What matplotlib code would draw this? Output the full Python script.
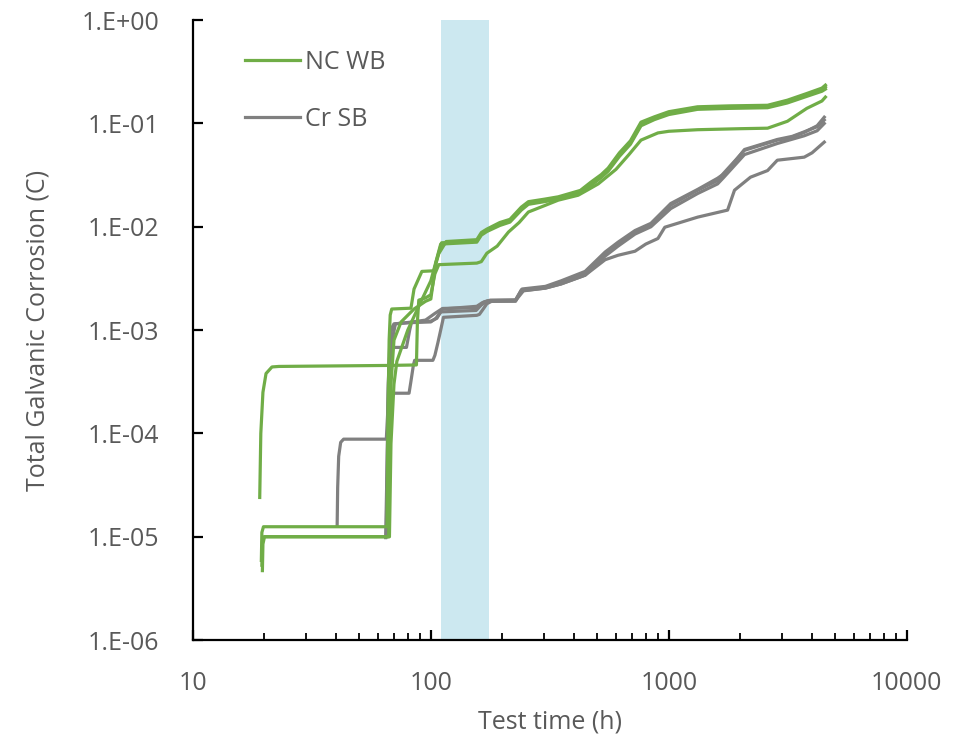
import matplotlib
matplotlib.use("Agg")
import matplotlib.pyplot as plt
from matplotlib.ticker import FixedLocator, LogLocator, NullLocator, NullFormatter

plt.rcParams["font.family"] = ["Open Sans", "DejaVu Sans"]

# NC WB (green) specimens: test time (h) and total galvanic corrosion (C)
nc_wb_time_1 = [19.1, 19.3, 19.7, 20.3, 21.5, 23.0, 66.0, 87.0, 87.8, 89.0, 95.0, 100.0, 104.0, 108.0,
                156.0, 163.0, 172.0, 190.0, 212.0, 235.0, 257.0, 300.0, 343.0, 416.0, 460.0, 505.0,
                600.0, 680.0, 764.0, 900.0, 1000.0, 1320.0, 2000.0, 2600.0, 3150.0, 3800.0, 4400.0, 4550.0]
nc_wb_charge_1 = [2.4e-5, 1.0e-4, 2.5e-4, 3.8e-4, 4.4e-4, 4.45e-4, 4.55e-4, 4.6e-4, 1.2e-3, 1.95e-3, 2.05e-3, 2.2e-3, 3.5e-3, 4.3e-3,
                  4.45e-3, 4.6e-3, 5.55e-3, 6.5e-3, 8.9e-3, 1.1e-2, 1.39e-2, 1.6e-2, 1.81e-2, 2.02e-2, 2.3e-2, 2.6e-2,
                  3.6e-2, 5.0e-2, 6.9e-2, 8.1e-2, 8.4e-2, 8.7e-2, 8.9e-2, 9.0e-2, 0.105, 0.14, 0.165, 0.18]

nc_wb_time_2 = [19.4, 19.5, 19.8, 65.5, 66.0, 66.8, 67.5, 68.5, 82.5, 85.0, 91.7, 103.0, 108.0, 116.0,
                156.0, 163.0, 172.0, 195.0, 215.0, 240.0, 257.0, 300.0, 343.0, 425.0, 470.0, 520.0,
                556.0, 620.0, 690.0, 764.0, 870.0, 1000.0, 1320.0, 1800.0, 2600.0, 3150.0, 3800.0, 4400.0, 4550.0]
nc_wb_charge_2 = [5.9e-6, 1.1e-5, 1.25e-5, 1.25e-5, 1.2e-4, 8.0e-4, 1.4e-3, 1.6e-3, 1.63e-3, 2.5e-3, 3.7e-3, 3.75e-3, 5.5e-3, 7.2e-3,
                  7.5e-3, 8.8e-3, 9.5e-3, 1.1e-2, 1.18e-2, 1.55e-2, 1.75e-2, 1.85e-2, 1.95e-2, 2.25e-2, 2.7e-2, 3.2e-2,
                  3.7e-2, 5.2e-2, 6.8e-2, 0.103, 0.116, 0.13, 0.145, 0.148, 0.15, 0.168, 0.195, 0.22, 0.235]

nc_wb_time_3 = [19.6, 19.7, 20.0, 66.5, 67.0, 68.0, 70.0, 75.0, 85.0, 95.0, 100.0, 105.0, 111.0,
                156.0, 163.0, 172.0, 195.0, 215.0, 240.0, 257.0, 300.0, 343.0, 425.0, 470.0, 520.0,
                556.0, 620.0, 690.0, 764.0, 870.0, 1000.0, 1320.0, 1800.0, 2600.0, 3150.0, 3800.0, 4400.0, 4550.0]
nc_wb_charge_3 = [4.7e-6, 8.5e-6, 1.0e-5, 1.0e-5, 6.0e-5, 3.0e-4, 8.0e-4, 1.2e-3, 1.6e-3, 1.9e-3, 2.0e-3, 4.5e-3, 7.0e-3,
                  7.3e-3, 8.5e-3, 9.2e-3, 1.06e-2, 1.14e-2, 1.5e-2, 1.7e-2, 1.8e-2, 1.9e-2, 2.2e-2, 2.6e-2, 3.1e-2,
                  3.55e-2, 5.0e-2, 6.5e-2, 0.098, 0.112, 0.125, 0.14, 0.143, 0.145, 0.162, 0.188, 0.21, 0.225]

nc_wb_time_4 = [19.5, 19.6, 19.9, 67.0, 68.0, 70.0, 72.0, 80.0, 90.0, 100.0, 110.0,
                156.0, 163.0, 172.0, 195.0, 215.0, 240.0, 257.0, 300.0, 343.0, 425.0, 470.0, 520.0,
                556.0, 620.0, 690.0, 764.0, 870.0, 1000.0, 1320.0, 1800.0, 2600.0, 3150.0, 3800.0, 4400.0, 4550.0]
nc_wb_charge_4 = [5.3e-6, 9.0e-6, 1.0e-5, 1.0e-5, 8.0e-5, 3.0e-4, 5.0e-4, 1.0e-3, 1.8e-3, 3.0e-3, 6.8e-3,
                  7.1e-3, 8.3e-3, 9.0e-3, 1.03e-2, 1.11e-2, 1.45e-2, 1.65e-2, 1.75e-2, 1.85e-2, 2.15e-2, 2.5e-2, 3.0e-2,
                  3.45e-2, 4.8e-2, 6.3e-2, 0.095, 0.109, 0.122, 0.137, 0.14, 0.142, 0.158, 0.183, 0.205, 0.215]

# Cr SB (grey) specimens
cr_sb_time_1 = [40.4, 40.6, 41.0, 41.8, 43.0, 65.0, 65.8, 66.5, 67.5, 70.0, 79.0, 81.5, 83.0, 100.0, 106.0,
                112.0, 156.0, 165.0, 175.0, 227.0, 240.0, 303.0, 353.0, 445.0, 540.0, 612.0, 721.0, 841.0,
                900.0, 1019.0, 1322.0, 1603.0, 1700.0, 2080.0, 2857.0, 3200.0, 3707.0, 4200.0, 4500.0]
cr_sb_charge_1 = [1.3e-5, 3.0e-5, 6.0e-5, 8.2e-5, 8.8e-5, 8.8e-5, 1.5e-4, 4.0e-4, 6.8e-4, 6.8e-4, 6.8e-4, 1.0e-3, 1.2e-3, 1.22e-3, 1.3e-3,
                  1.6e-3, 1.7e-3, 1.85e-3, 1.93e-3, 1.95e-3, 2.45e-3, 2.6e-3, 2.9e-3, 3.6e-3, 5.5e-3, 6.9e-3, 8.9e-3, 1.04e-2,
                  1.2e-2, 1.62e-2, 2.26e-2, 2.8e-2, 3.3e-2, 5.5e-2, 6.9e-2, 7.2e-2, 8.2e-2, 9.5e-2, 0.115]

cr_sb_time_2 = [64.6, 65.2, 66.0, 67.0, 68.5, 81.0, 82.5, 84.5, 85.5, 102.0, 104.0, 107.0, 110.0, 113.0,
                156.0, 160.0, 166.0, 172.0, 180.0, 227.0, 245.0, 303.0, 353.0, 445.0, 540.0, 612.0, 721.0,
                800.0, 900.0, 962.0, 1322.0, 1766.0, 1888.0, 2204.0, 2600.0, 2857.0, 3707.0, 4000.0, 4500.0]
cr_sb_charge_2 = [9.8e-6, 3.0e-5, 1.1e-4, 2.0e-4, 2.45e-4, 2.45e-4, 3.2e-4, 4.6e-4, 5.1e-4, 5.1e-4, 5.7e-4, 7.5e-4, 1.0e-3, 1.33e-3,
                  1.39e-3, 1.42e-3, 1.6e-3, 1.8e-3, 1.9e-3, 1.93e-3, 2.4e-3, 2.55e-3, 2.8e-3, 3.4e-3, 4.8e-3, 5.3e-3, 5.8e-3,
                  6.8e-3, 7.7e-3, 9.9e-3, 1.24e-2, 1.45e-2, 2.26e-2, 3.02e-2, 3.5e-2, 4.41e-2, 4.72e-2, 5.2e-2, 6.6e-2]

cr_sb_time_3 = [65.0, 65.6, 66.3, 67.2, 68.5, 70.0, 82.0, 100.0, 105.0, 110.0, 155.0, 163.0, 172.0, 227.0,
                240.0, 303.0, 353.0, 445.0, 540.0, 612.0, 721.0, 841.0, 1019.0, 1322.0, 1603.0, 1700.0,
                2080.0, 2857.0, 3707.0, 4200.0, 4500.0]
cr_sb_charge_3 = [1.0e-5, 7.0e-5, 3.0e-4, 7.5e-4, 1.05e-3, 1.15e-3, 1.18e-3, 1.2e-3, 1.3e-3, 1.5e-3, 1.55e-3, 1.75e-3, 1.9e-3, 1.9e-3,
                  2.4e-3, 2.55e-3, 2.8e-3, 3.4e-3, 5.2e-3, 6.5e-3, 8.5e-3, 1.0e-2, 1.5e-2, 2.1e-2, 2.6e-2, 3.0e-2,
                  5.0e-2, 6.4e-2, 7.6e-2, 8.5e-2, 0.1]

cr_sb_time_4 = [65.5, 66.2, 67.0, 68.0, 69.5, 71.0, 84.0, 95.0, 104.0, 112.0, 156.0, 168.0, 178.0, 227.0,
                242.0, 303.0, 353.0, 445.0, 540.0, 612.0, 721.0, 841.0, 1019.0, 1322.0, 1603.0, 1750.0,
                2080.0, 2857.0, 3300.0, 3707.0, 4200.0, 4500.0]
cr_sb_charge_4 = [1.2e-5, 1.5e-4, 4.5e-4, 6.2e-4, 9.0e-4, 1.15e-3, 1.2e-3, 1.25e-3, 1.45e-3, 1.62e-3, 1.65e-3, 1.88e-3, 1.95e-3, 1.96e-3,
                  2.5e-3, 2.65e-3, 3.0e-3, 3.7e-3, 5.7e-3, 7.1e-3, 9.2e-3, 1.08e-2, 1.68e-2, 2.3e-2, 2.95e-2, 3.4e-2,
                  5.6e-2, 7.0e-2, 7.5e-2, 8.3e-2, 9.3e-2, 0.108]

shade_start, shade_end = 110.0, 175.0

x_ticks = [10, 100, 1000, 10000]
x_tick_labels = ["10", "100", "1000", "10000"]
y_ticks = [1e-6, 1e-5, 1e-4, 1e-3, 1e-2, 1e-1, 1e0]
y_tick_labels = ["1.E-06", "1.E-05", "1.E-04", "1.E-03", "1.E-02", "1.E-01", "1.E+00"]

green = "#70AD47"
grey = "#808080"
text_grey = "#595959"

fig = plt.figure(figsize=(9.74, 7.46), dpi=100)
ax = fig.add_axes([0.198, 0.142, 0.733, 0.831])

ax.axvspan(shade_start, shade_end, color="#CCE8F0", zorder=0, linewidth=0)

green_sets = [(nc_wb_time_1, nc_wb_charge_1), (nc_wb_time_2, nc_wb_charge_2),
              (nc_wb_time_3, nc_wb_charge_3), (nc_wb_time_4, nc_wb_charge_4)]
grey_sets = [(cr_sb_time_1, cr_sb_charge_1), (cr_sb_time_2, cr_sb_charge_2),
             (cr_sb_time_3, cr_sb_charge_3), (cr_sb_time_4, cr_sb_charge_4)]

for i, (t, q) in enumerate(green_sets):
    ax.plot(t, q, color=green, linewidth=2.3, label="NC WB" if i == 0 else None, zorder=3)
for i, (t, q) in enumerate(grey_sets):
    ax.plot(t, q, color=grey, linewidth=2.3, label="Cr SB" if i == 0 else None, zorder=2)

ax.set_xscale("log")
ax.set_yscale("log")
ax.set_xlim(10, 10000)
ax.set_ylim(1e-6, 1)

ax.xaxis.set_major_locator(FixedLocator(x_ticks))
ax.set_xticklabels(x_tick_labels)
ax.xaxis.set_minor_locator(LogLocator(base=10, subs=range(2, 10)))
ax.xaxis.set_minor_formatter(NullFormatter())
ax.yaxis.set_major_locator(FixedLocator(y_ticks))
ax.set_yticklabels(y_tick_labels)
ax.yaxis.set_minor_locator(NullLocator())

for side in ["top", "right"]:
    ax.spines[side].set_visible(False)
for side in ["left", "bottom"]:
    ax.spines[side].set_linewidth(1.6)
    ax.spines[side].set_color("black")

ax.tick_params(axis="both", which="major", direction="in", length=7, width=1.6,
               labelsize=18, labelcolor=text_grey, color="black")
ax.tick_params(axis="x", which="minor", direction="in", length=5, width=1.3, color="black")
ax.tick_params(axis="y", which="major", pad=24)
ax.tick_params(axis="x", which="major", pad=22)

ax.set_xlabel("Test time (h)", fontsize=18, color=text_grey)
ax.set_ylabel("Total Galvanic Corrosion (C)", fontsize=18, color=text_grey)
ax.xaxis.set_label_coords(0.5, -0.112)
ax.yaxis.set_label_coords(-0.200, 0.5)

leg = ax.legend(loc="upper left", bbox_to_anchor=(0.055, 0.972), frameon=False, fontsize=18,
                handlelength=2.2, handletextpad=0.2, labelspacing=1.27, borderpad=0)
for txt in leg.get_texts():
    txt.set_color(text_grey)

fig.savefig("out.png", dpi=100)
